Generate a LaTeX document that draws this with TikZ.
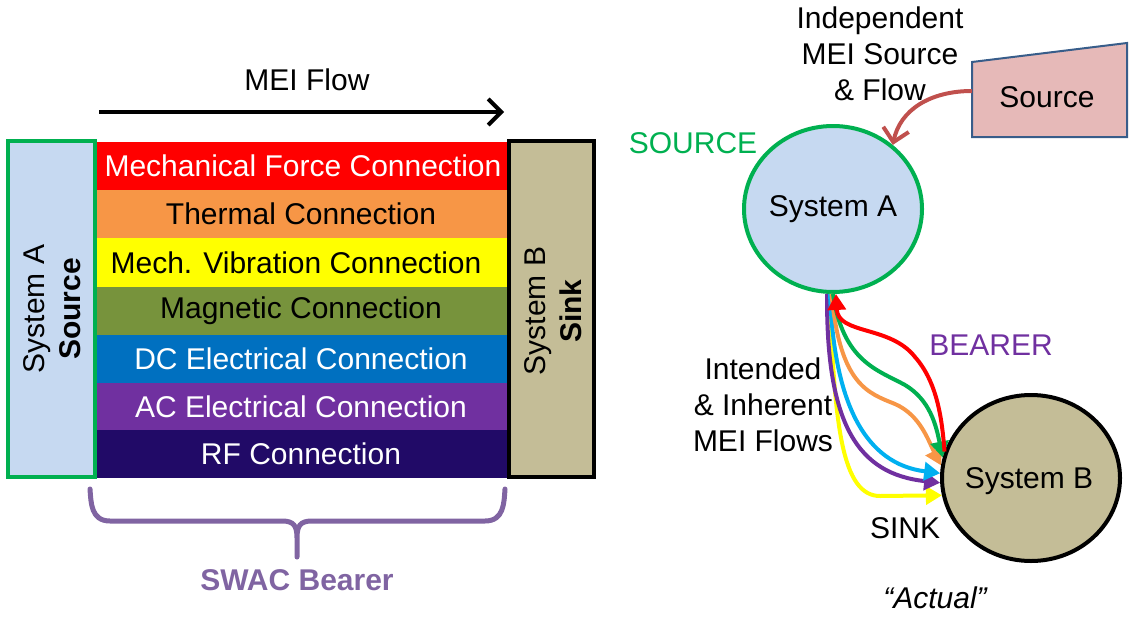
\documentclass[tikz,border=0pt]{standalone}
\usepackage{fontspec}
\setmainfont{Liberation Sans}
\usetikzlibrary{arrows.meta,shapes.geometric}

\definecolor{cRed}{HTML}{FF0000}
\definecolor{cOrange}{HTML}{F79646}
\definecolor{cYellow}{HTML}{FFFF00}
\definecolor{cOlive}{HTML}{77933C}
\definecolor{cBlue}{HTML}{0070C0}
\definecolor{cPurple}{HTML}{7030A0}
\definecolor{cIndigo}{HTML}{210A67}
\definecolor{cSky}{HTML}{00B0F0}
\definecolor{cGreen}{HTML}{00B050}
\definecolor{cLightBlue}{HTML}{C6D9F1}
\definecolor{cTan}{HTML}{C4BD97}
\definecolor{cPink}{HTML}{E6B9B8}
\definecolor{cNavy}{HTML}{385D8A}
\definecolor{cBrick}{HTML}{C0504D}
\definecolor{cLavender}{HTML}{8064A2}

\tikzset{
  txt/.style={inner sep=0pt, font=\fontsize{30}{36}\selectfont, align=center},
  band/.style={txt},
  flow/.style={line width=4pt, -{Triangle[length=16pt,width=18pt]}},
  flowback/.style={line width=4pt, {Triangle[length=16pt,width=18pt]}-},
  barb/.style={-{Straight Barb[length=13pt,width=26pt,line width=4pt]}},
}

\begin{document}
\begin{tikzpicture}[x=1pt,y=-1pt]
\useasboundingbox (0,0) rectangle (1129,618);

% ---------- left panel: connection bands ----------
\fill[cRed]    (96,142) rectangle (507,190);
\fill[cOrange] (96,190) rectangle (507,238);
\fill[cYellow] (96,238) rectangle (507,287);
\fill[cOlive]  (96,287) rectangle (507,335);
\fill[cBlue]   (96,335) rectangle (507,383);
\fill[cPurple] (96,383) rectangle (507,430);
\fill[cIndigo] (96,430) rectangle (507,478);

\node[band, text=white] (b1) at (303,166) {Mechanical Force Connection};
\node[band, text=black] (b2) at (301,214) {Thermal Connection};
\node[band, text=black] (b3) at (296,262.5) {Mech. Vibration Connection};
\node[band, text=black] (b4) at (301,311) {Magnetic Connection};
\node[band, text=white] (b5) at (301,359) {DC Electrical Connection};
\node[band, text=white] (b6) at (301,406.5) {AC Electrical Connection};
\node[band, text=white] (b7) at (301,454) {RF Connection};

% system boxes
\draw[line width=4pt, draw=cGreen, fill=cLightBlue] (8,141) rectangle (95,477);
\draw[line width=4pt, draw=black, fill=cTan] (509,141) rectangle (594,477);
\node[txt, rotate=90] (sa) at (52,309) {System A\\\textbf{Source}};
\node[txt, rotate=90] (sb) at (553,311) {System B\\\textbf{Sink}};

% MEI flow arrow
\node[txt] (mei) at (307,80) {MEI Flow};
\coordinate (fl0) at (99,112);
\coordinate (fl1) at (504,112);
\draw[line width=4pt, barb] (fl0) -- (fl1);

% bearer brace
\draw[cLavender, line width=5pt, line cap=round, line join=round]
  (90,489) .. controls (91,503) and (91,521) .. (110,521)
  -- (282,521) .. controls (294,521) and (297,526) .. (297,538) -- (297,557)
  (505,489) .. controls (504,503) and (504,521) .. (485,521)
  -- (312,521) .. controls (300,521) and (297,526) .. (297,538);
\node[txt, text=cLavender, font=\fontsize{30}{36}\selectfont\bfseries] (swac) at (297,580) {SWAC Bearer};

% ---------- right panel ----------
\node[ellipse, draw=cGreen, fill=cLightBlue, line width=4pt,
      minimum width=178pt, minimum height=166pt, inner sep=0pt] (sysA) at (833,209) {};
\node[txt] at (sysA.center) {System A};
\node[ellipse, draw=black, fill=cTan, line width=4pt,
      minimum width=178pt, minimum height=166pt, inner sep=0pt] (sysB) at (1031,478) {};
\node[txt] at (1029,481) {System B};

\node[txt, text=cGreen] (srcLbl) at (693,143) {SOURCE};
\node[txt] (indep) at (880,54) {Independent\\MEI Source\\\& Flow};

% independent source block
\draw[line width=2pt, draw=cNavy, fill=cPink]
  (972,62) -- (1127,43) -- (1127,137) -- (972,137) -- cycle;
\node[txt] (srcbox) at (1047,97) {Source};
\coordinate (srcL) at (972,91);
\draw[cBrick, line width=4pt, barb]
  (srcL) .. controls (930,91) and (900,110) .. (sysA.47);

% intended & inherent flows
\draw[cYellow, flow] (sysA.268) .. controls (834,425) and (842,496) .. (880,496) -- (sysB.191);
\draw[cPurple, flow] (sysA.266) .. controls (826,425) and (858,474) .. (sysB.183);
\draw[cSky, flow] (sysA.268) .. controls (834,405) and (866,464) .. (sysB.177);
\draw[cOrange, flow] (sysA.269) .. controls (840,385) and (868,393) .. (895,404)
  .. controls (920,415) and (928,440) .. (sysB.172);
\draw[cGreen, flow] (sysA.270) .. controls (843,362) and (878,370) .. (905,385)
  .. controls (930,400) and (936,425) .. (sysB.167);
\draw[cRed, flowback] (sysA.272) .. controls (838,335) and (890,325) .. (915,357)
  .. controls (937,382) and (942,418) .. (sysB.163);

\node[txt, text=cPurple] (bearer) at (991,345) {BEARER};
\node[txt] (intended) at (763,405) {Intended\\\& Inherent\\MEI Flows};
\node[txt] (sinkLbl) at (905,528) {SINK};
\node[txt, font=\fontsize{30}{36}\selectfont\itshape] (actual) at (935,598) {“Actual”};
\end{tikzpicture}
\end{document}
